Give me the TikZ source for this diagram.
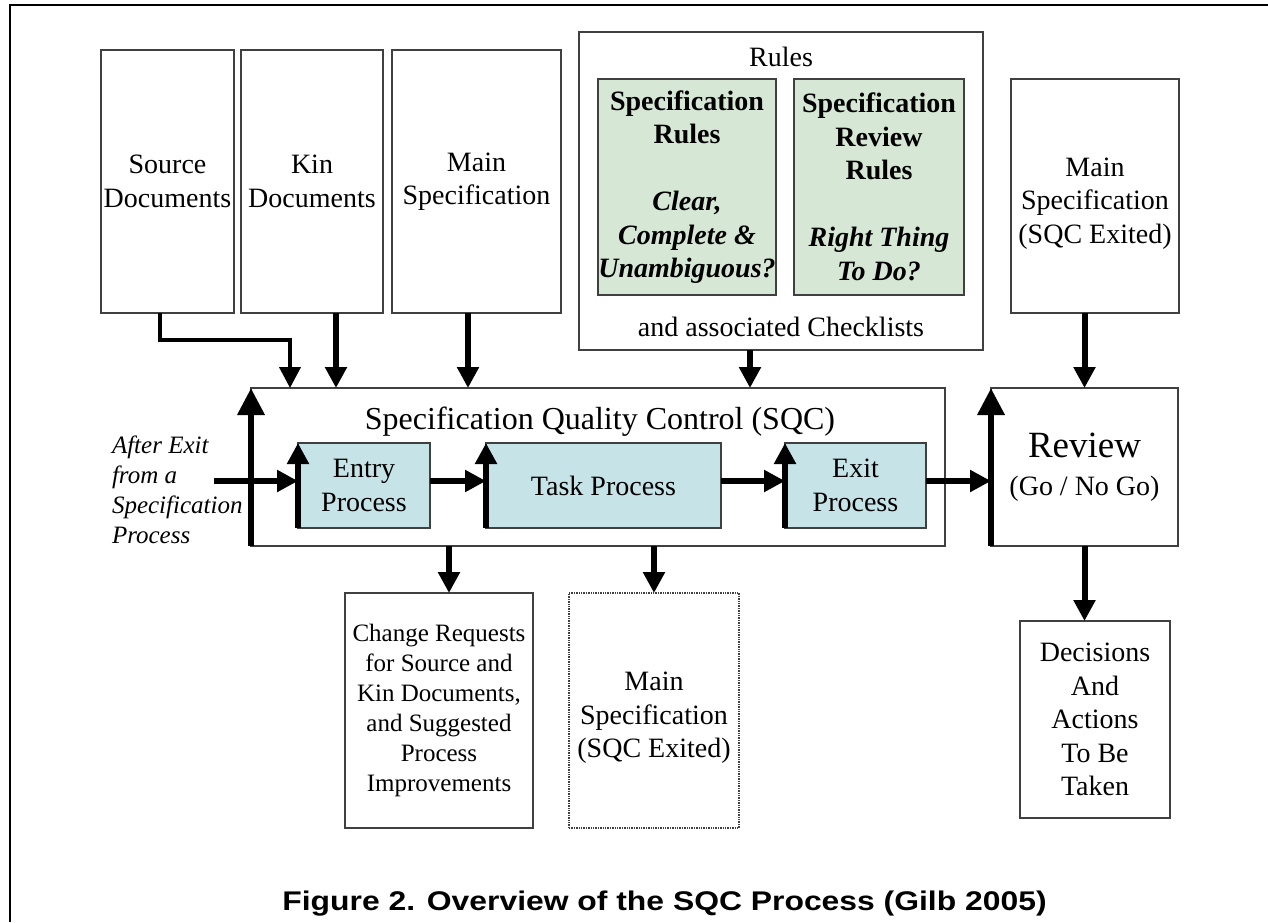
\documentclass[tikz,border=0pt]{standalone}
\usepackage{graphicx}
\usepackage{fontspec}
\setmainfont{Liberation Serif}
\newfontfamily\capfont{Liberation Sans}
\usetikzlibrary{positioning,arrows.meta}
\definecolor{rulegreen}{RGB}{214,232,213}
\definecolor{procblue}{RGB}{198,228,231}
\definecolor{edgegray}{RGB}{64,64,64}
\begin{document}
\begin{tikzpicture}[x=1pt,y=-1pt]
\path[use as bounding box] (0,0) rectangle (1268,922);

\tikzstyle{every node}+=[inner sep=0pt,outer sep=0pt,align=center,font=\fontsize{28}{33.5}\selectfont]
\tikzstyle{doc}=[draw=edgegray,line width=1.4pt,anchor=north west]
\tikzstyle{rulebox}=[doc,fill=rulegreen]
\tikzstyle{procbox}=[doc,fill=procblue]
\tikzstyle{flow}=[line width=6pt,-{Triangle[width=21pt,length=21pt]}]
\tikzstyle{bigflow}=[line width=6.5pt,-{Triangle[width=26pt,length=27pt]}]

% frame
\draw[line width=2pt] (10,922) -- (10,5) -- (1268,5);

% inputs
\node[doc,minimum width=133pt,minimum height=263pt] (src) at (101,50) {Source\\Documents};
\node[doc,minimum width=142pt,minimum height=263pt,right=7pt of src] (kin) {Kin\\Documents};
\node[doc,minimum width=169pt,minimum height=263pt,right=9pt of kin] (mspec) {Main\\Specification};

\node[doc,minimum width=404pt,minimum height=318pt] (rules) at (579,32) {};
\node (rulestitle) at (781,57) {Rules};
\node[rulebox,minimum width=178pt,minimum height=216pt] (specrules) at (598,79)
  {\textbf{Specification}\\\textbf{Rules}\\\mbox{}\\\textbf{\textit{Clear,}}\\\textbf{\textit{Complete \&}}\\\textbf{\textit{Unambiguous?}}};
\node[rulebox,minimum width=170pt,minimum height=216pt,right=18pt of specrules] (revrules)
  {\textbf{Specification}\\\textbf{Review}\\\textbf{Rules}\\\mbox{}\\\textbf{\textit{Right Thing}}\\\textbf{\textit{To Do?}}};
\node (checklists) at (781,327) {and associated Checklists};

\node[doc,minimum width=168pt,minimum height=234pt] (mspecout) at (1011,79) {\mbox{}\\Main\\Specification\\(SQC Exited)};

% SQC
\node[doc,minimum width=694pt,minimum height=158pt] (sqc) at (251,388) {};
\node[font=\fontsize{32}{36}\selectfont] (sqctitle) at (600,422) {Specification Quality Control (SQC)};
\node[procbox,minimum width=132pt,minimum height=85pt] (entry) at (298,443) {Entry\\Process};
\node[procbox,minimum width=235pt,minimum height=85pt,right=56pt of entry] (task) {Task Process};
\node[procbox,minimum width=141pt,minimum height=85pt,right=64pt of task] (exit) {Exit\\Process};
\node[doc,minimum width=187pt,minimum height=158pt,right=46pt of sqc] (review)
  {{\fontsize{37}{40}\selectfont Review}\\[4pt](Go / No Go)};

\node[anchor=west,align=left,font=\fontsize{25}{30}\selectfont\itshape] (feedtext) at (112,490)
  {After Exit\\from a\\Specification\\Process};
\coordinate (feed) at (214,481);

% outputs
\node[doc,font=\fontsize{25}{30}\selectfont,minimum width=188pt,minimum height=235pt] (change) at (345,593)
  {Change Requests\\for Source and\\Kin Documents,\\and Suggested\\Process\\Improvements};
\node[doc,densely dotted,minimum width=170pt,minimum height=235pt,right=36pt of change] (mspecdone)
  {\mbox{}\\Main\\Specification\\(SQC Exited)};
\node[doc,minimum width=150pt,minimum height=197pt] (decide) at (1020,621) {Decisions\\And\\Actions\\To Be\\Taken};

\node[anchor=base,font=\capfont\bfseries\fontsize{27}{30}\selectfont] (caption) at (664.5,910)
  {\scalebox{1.18}[1]{Figure 2. Overview of the SQC Process (Gilb 2005)}};

% arrows in
\draw[line width=4pt,-{Triangle[width=21pt,length=21pt]}] ([xshift=-8pt]src.south) -- ++(0,27) -| ([xshift=39pt]sqc.north west);
\draw[flow] ([xshift=24pt]kin.south) -- ([xshift=24pt]kin.south |- sqc.north);
\draw[flow] ([xshift=-8.5pt]mspec.south) -- ([xshift=-8.5pt]mspec.south |- sqc.north);
\draw[flow] ([xshift=-31pt]rules.south) -- ([xshift=-31pt]rules.south |- sqc.north);
\draw[flow] (review.north |- mspecout.south) -- (review.north);

% process chain
\draw[flow] (feed) -- ([yshift=4.5pt]entry.west);
\draw[flow] ([yshift=4.5pt]entry.east) -- ([yshift=4.5pt]task.west);
\draw[flow] ([yshift=4.5pt]task.east) -- ([yshift=4.5pt]exit.west);
\draw[flow] ([yshift=4.5pt]exit.east) -- ([yshift=4.5pt]exit.east -| review.west);
\foreach \b in {entry,task,exit}
  \draw[flow] (\b.south west) -- (\b.north west);
\draw[bigflow] (sqc.south west) -- (sqc.north west);
\draw[bigflow] (review.south west) -- (review.north west);

% arrows out
\draw[flow] ([xshift=10pt]change.north |- sqc.south) -- ([xshift=10pt]change.north);
\draw[flow] (mspecdone.north |- sqc.south) -- (mspecdone.north);
\draw[flow] (review.south) -- (review.south |- decide.north);
\end{tikzpicture}
\end{document}
